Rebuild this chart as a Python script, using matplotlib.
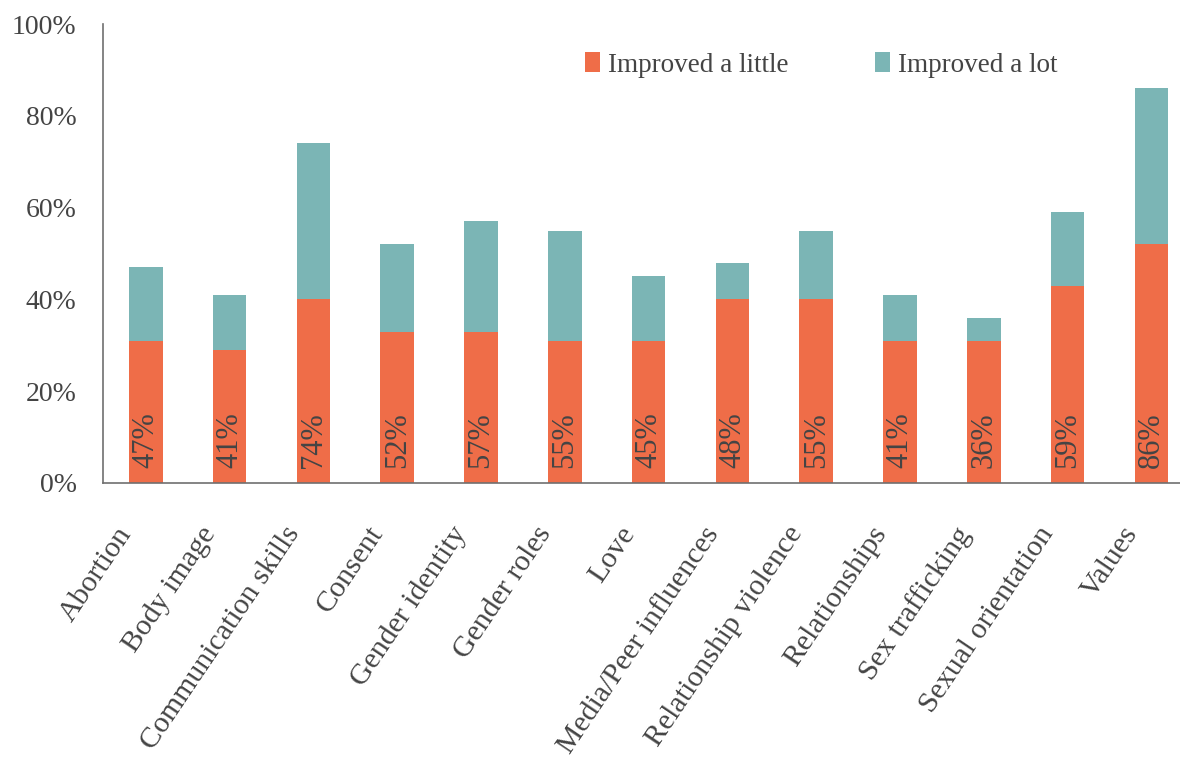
import numpy as np
import matplotlib.pyplot as plt
import matplotlib.transforms as mtransforms
from matplotlib.ticker import FuncFormatter

categories = ["Abortion", "Body image", "Communication skills", "Consent",
              "Gender identity", "Gender roles", "Love", "Media/Peer influences",
              "Relationship violence", "Relationships", "Sex trafficking",
              "Sexual orientation", "Values"]
little = [31, 29, 40, 33, 33, 31, 31, 40, 40, 31, 31, 43, 52]
total = [47, 41, 74, 52, 57, 55, 45, 48, 55, 41, 36, 59, 86]
lot = [t - l for t, l in zip(total, little)]

orange = "#EF6D48"
teal = "#7BB5B5"
text_col = "#444444"

plt.rcParams['font.family'] = ['Liberation Serif', 'DejaVu Serif']

fig = plt.figure(figsize=(11.8, 7.76), dpi=100)
# axes box in figure fractions (left edge at the y spine, bottom at 0%)
ax = fig.add_axes([103 / 1180, 1 - 483 / 776, 1077 / 1180, 459 / 776])

x = np.arange(len(categories))
ax.bar(x, little, width=0.4, color=orange, label="Improved a little")
ax.bar(x, lot, width=0.4, bottom=little, color=teal, label="Improved a lot")

for xi, t in zip(x, total):
    ax.text(xi, 3.3, f"{t}%", rotation=90, ha='center', va='bottom',
            fontsize=22, color=text_col)

ax.set_xlim(-0.51, 12.34)
ax.set_ylim(0, 100)
ax.set_yticks(range(0, 101, 20))
ax.yaxis.set_major_formatter(FuncFormatter(lambda v, p: f"{int(v)}%"))
ax.tick_params(axis='y', length=0, pad=19, labelsize=20, labelcolor=text_col)
ax.tick_params(axis='x', length=0, pad=28, labelsize=21.5, labelcolor=text_col)
ax.set_xticks(x)
ax.set_xticklabels(categories, rotation=56, ha='right', rotation_mode='anchor')
# labels sit a bit left of the bar centres, as in the original
shift = mtransforms.ScaledTranslation(-30 / 100, 0, fig.dpi_scale_trans)
for lab in ax.get_xticklabels():
    lab.set_transform(lab.get_transform() + shift)

for s in ['top', 'right']:
    ax.spines[s].set_visible(False)
for s in ['left', 'bottom']:
    ax.spines[s].set_color('#6f6f6f')
    ax.spines[s].set_linewidth(1.2)

ax.legend(loc='center left', bbox_to_anchor=(585 / 1180, 1 - 65 / 776),
          bbox_transform=fig.transFigure, ncol=2, frameon=False,
          fontsize=19.5, labelcolor=text_col, handlelength=0.55, handleheight=0.74,
          handletextpad=0.3, columnspacing=3.2, borderpad=0, borderaxespad=0)

fig.savefig("out.png", dpi=100)
